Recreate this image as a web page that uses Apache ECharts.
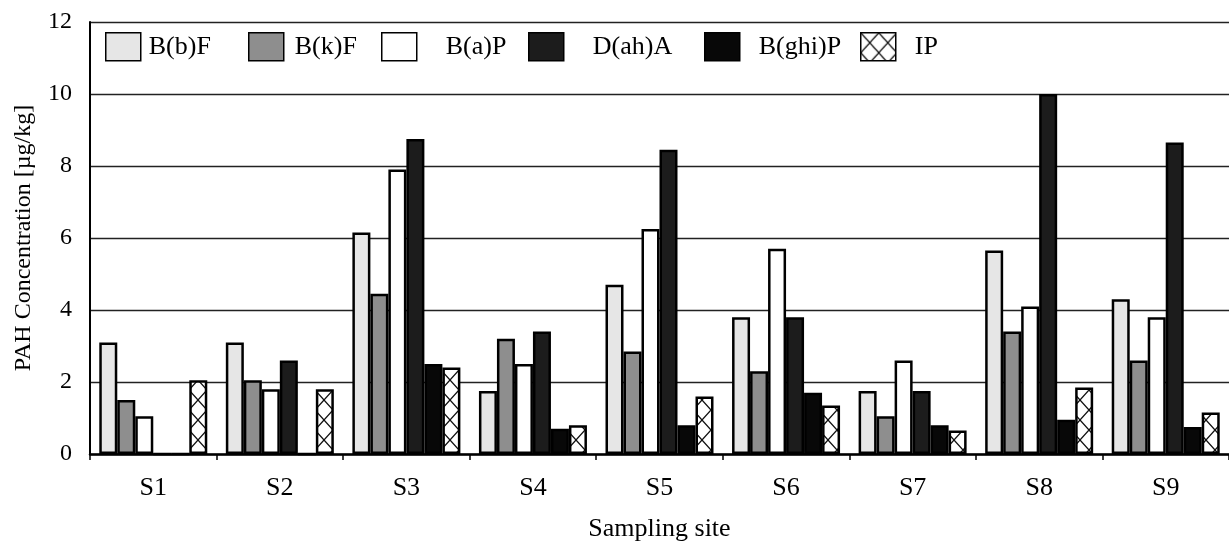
<!DOCTYPE html>
<html>
<head>
<meta charset="utf-8">
<script src="https://cdn.jsdelivr.net/npm/echarts@6/dist/echarts.min.js"></script>
<style>
html,body{margin:0;padding:0;background:#fff;}
#chart{width:1229px;height:547px;}
</style>
</head>
<body>
<div id="chart"></div>
<script>
// ---- data ----
const categories = ['S1','S2','S3','S4','S5','S6','S7','S8','S9'];
const seriesNames = ['B(b)F','B(k)F','B(a)P','D(ah)A','B(ghi)P','IP'];
const BbF   = [3.1, 3.1, 6.15, 1.75, 4.7, 3.8, 1.75, 5.65, 4.3];
const BkF   = [1.5, 2.05, 4.45, 3.2, 2.85, 2.3, 1.05, 3.4, 2.6];
const BaP   = [1.05, 1.8, 7.9, 2.5, 6.25, 5.7, 2.6, 4.1, 3.8];
const DahA  = [0, 2.6, 8.75, 3.4, 8.45, 3.8, 1.75, 10.0, 8.65];
const BghiP = [0, 0, 2.5, 0.7, 0.8, 1.7, 0.8, 0.95, 0.75];
const IP    = [2.05, 1.8, 2.4, 0.8, 1.6, 1.35, 0.65, 1.85, 1.15];
const yTicks = [0, 2, 4, 6, 8, 10, 12];

const values = [BbF, BkF, BaP, DahA, BghiP, IP];

// ---- styles ----
function hatch() {
  const c = document.createElement('canvas');
  c.width = 18; c.height = 20;
  const g = c.getContext('2d');
  g.fillStyle = '#fff'; g.fillRect(0, 0, 18, 20);
  g.strokeStyle = '#111'; g.lineWidth = 1.3;
  g.beginPath();
  g.moveTo(0, 0); g.lineTo(18, 20);
  g.moveTo(18, 0); g.lineTo(0, 20);
  g.stroke();
  return c;
}
const fills = ['#e6e6e6', '#8e8e8e', '#ffffff', '#1c1c1c', '#080808', {image: hatch(), repeat: 'repeat'}];
const font = "'Liberation Serif', 'Times New Roman', serif";

const legendBoxes = [100, 243, 376, 523, 699, 855];
const legendTextGap = [8, 11, 29, 29, 19, 19];

const chart = echarts.init(document.getElementById('chart'), null, {renderer: 'canvas'});
const option = {
  backgroundColor: '#fff',
  animation: false,
  grid: {left: 90, top: 22, width: 1148, bottom: 86, containLabel: false},
  legend: seriesNames.map((n, i) => ({
    data: [n],
    left: legendBoxes[i],
    top: 27,
    itemWidth: 35,
    itemHeight: 28,
    icon: 'rect',
    itemStyle: {borderColor: '#000', borderWidth: 1.5},
    textStyle: {fontFamily: font, fontSize: 26, color: '#000', padding: [0, 0, 0, legendTextGap[i] - 5]},
    selectedMode: false
  })),
  xAxis: {
    type: 'category',
    data: categories,
    name: 'Sampling site',
    nameLocation: 'middle',
    nameGap: 62,
    nameTextStyle: {fontFamily: font, fontSize: 26, color: '#000'},
    axisLine: {lineStyle: {color: '#000', width: 2.5}},
    axisTick: {show: true, length: 6, lineStyle: {color: '#000', width: 1.5}},
    axisLabel: {fontFamily: font, fontSize: 26, color: '#000', margin: 21},
    z: 10
  },
  yAxis: {
    type: 'value',
    min: 0, max: 12, interval: 2,
    name: 'PAH Concentration [µg/kg]',
    nameLocation: 'middle',
    nameGap: 54,
    nameTextStyle: {fontFamily: font, fontSize: 24, color: '#000'},
    axisLine: {show: true, lineStyle: {color: '#000', width: 2}},
    axisTick: {show: false},
    axisLabel: {fontFamily: font, fontSize: 24, color: '#000', margin: 18,
      formatter: v => (yTicks.indexOf(v) >= 0 ? String(v) : '')},
    splitLine: {show: true, lineStyle: {color: '#222', width: 1.4}}
  },
  series: seriesNames.map((n, i) => ({
    name: n,
    type: 'bar',
    data: values[i],
    barWidth: 18,
    barGap: '0%',
    itemStyle: {color: fills[i], borderColor: '#000', borderWidth: 2.5},
    emphasis: {disabled: true}
  }))
};
chart.setOption(option);
</script>
</body>
</html>
